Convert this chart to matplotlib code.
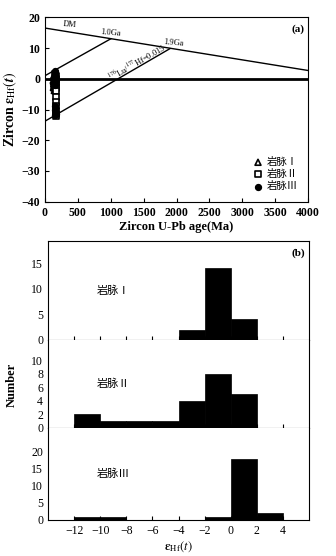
import matplotlib
matplotlib.use("Agg")
import matplotlib.pyplot as plt
import numpy as np

plt.rcParams['font.family'] = ['Liberation Serif', 'Noto Sans CJK SC', 'DejaVu Sans']
plt.rcParams['mathtext.fontset'] = 'stix'

# ---------------- Panel (a) data ----------------
age_I = [120, 125, 130, 132, 135, 138, 140, 142, 145, 148, 128, 136]
ehf_I = [0.5, -0.5, -1.0, -1.5, -2.0, -2.5, -3.0, -3.8, 0.0, -1.2, -2.8, 0.8]
age_II = [158, 160, 162, 165, 168, 160, 163, 166, 164, 161, 167, 162, 165]
ehf_II = [1.5, 0.8, 0.0, -1.0, -2.0, -3.0, -4.0, -6.0, -7.5, -9.0, -10.5, -11.5, -12.0]
age_III = [145, 150, 152, 155, 158, 150, 153, 156, 148, 152, 155, 160, 158]
ehf_III = [2.5, 2.0, 1.5, 1.0, 0.5, 0.0, -0.5, -1.0, -2.0, -9.0, -10.0, -11.5, -11.8]

dm_age = [0, 4000]
dm_ehf = [16.5, 2.7]
crust1_age = [0, 1000]
crust1_ehf = [1.0, 13.0]
crust2_age = [0, 1900]
crust2_ehf = [-13.8, 9.8]

# ---------------- Panel (b) data ----------------
bin_left = [-12, -10, -8, -6, -4, -2, 0, 2]
count_I = [0, 0, 0, 0, 2, 14, 4, 0]
count_II = [2, 1, 1, 1, 4, 8, 5, 0]
count_III = [1, 1, 0, 0, 0, 1, 18, 2]

W, H = 336, 556
fig = plt.figure(figsize=(W / 100, H / 100), dpi=100)

def pos(l, r, t, b):
    return [l / W, 1 - b / H, (r - l) / W, (b - t) / H]

ax = fig.add_axes(pos(45, 308, 17.3, 201.7))
ax.set_xlim(0, 4000)
ax.set_ylim(-40, 20)
ax.plot(dm_age, dm_ehf, color='black', lw=1)
ax.plot(crust1_age, crust1_ehf, color='black', lw=1)
ax.plot(crust2_age, crust2_ehf, color='black', lw=1)
ax.axhline(0, color='black', lw=2)
ax.scatter(age_I, ehf_I, marker='^', s=18, facecolor='none', edgecolor='black', lw=1.2, label='岩脉Ⅰ', zorder=3)
ax.scatter(age_II, ehf_II, marker='s', s=16, facecolor='white', edgecolor='black', lw=1.2, label='岩脉Ⅱ', zorder=3)
ax.scatter(age_III, ehf_III, marker='o', s=18, color='black', label='岩脉Ⅲ', zorder=4)
ax.set_xticks(np.arange(0, 4001, 500))
ax.set_yticks(np.arange(-40, 21, 10))
ax.tick_params(direction='in', length=3, labelsize=8.5)
for lab in ax.get_xticklabels() + ax.get_yticklabels():
    lab.set_fontweight('bold')
ax.set_xlabel('Zircon U-Pb age(Ma)', fontsize=9, fontweight='bold', labelpad=2)
ax.set_ylabel(r'Zircon $\boldsymbol{\varepsilon}_{\rm Hf}(\boldsymbol{t})$', fontsize=10, fontweight='bold', labelpad=2)
ax.text(0.985, 0.96, '(a)', transform=ax.transAxes, ha='right', va='top', fontsize=8, fontweight='bold')
ax.text(380, 16.2, 'DM', fontsize=6, ha='center', va='bottom', rotation=-5)
ax.text(1000, 13.2, '1.0Ga', fontsize=6, ha='center', va='bottom', rotation=-5)
ax.text(1950, 10.0, '1.9Ga', fontsize=6, ha='center', va='bottom', rotation=-5)
ax.text(1390, 5.2, r'$^{176}$Lu/$^{177}$Hf=0.015', fontsize=6, ha='center', va='center', rotation=30)
leg = ax.legend(loc='lower right', frameon=False, fontsize=7.5, handletextpad=0.3,
                labelspacing=0.2, borderaxespad=0.6, handlelength=1.0)

# ---------------- Panel (b) ----------------
sub_bounds = [(241, 340), (340, 427.5), (427.5, 520)]
ylims = [19.3, 13.06, 27.2]
counts = [count_I, count_II, count_III]
yticks = [[0, 5, 10, 15], [0, 2, 4, 6, 8, 10], [0, 5, 10, 15, 20]]
names = ['岩脉Ⅰ', '岩脉Ⅱ', '岩脉Ⅲ']
axes_b = []
for i in range(3):
    t, b = sub_bounds[i]
    a = fig.add_axes(pos(48, 309, t, b))
    a.bar(bin_left, counts[i], width=2, align='edge', color='black', edgecolor='black', lw=0.5)
    a.set_xlim(-14, 6)
    a.set_ylim(0, ylims[i])
    a.set_yticks(yticks[i])
    a.set_xticks(np.arange(-12, 5, 2))
    a.tick_params(direction='in', length=3, labelsize=8.5, width=0.8)
    a.tick_params(axis='y', length=0)
    a.text(-9, ylims[i] * 0.5, names[i], fontsize=8, ha='center', va='center')
    for s in ['top', 'right', 'left', 'bottom']:
        a.spines[s].set_linewidth(0.8)
    if i > 0:
        a.spines['top'].set_visible(False)
    if i < 2:
        a.set_xticklabels([])
    else:
        a.set_xticklabels(['\u221212', '\u221210', '\u22128', '\u22126', '\u22124', '\u22122', '0', '2', '4'])
    axes_b.append(a)

axes_b[0].text(0.985, 0.93, '(b)', transform=axes_b[0].transAxes, ha='right', va='top', fontsize=8, fontweight='bold')
axes_b[2].set_xlabel(r'$\boldsymbol{\varepsilon}_{\rm Hf}(t)$', fontsize=9, labelpad=2)
fig.text(12 / W, 1 - 385 / H, 'Number', rotation=90, fontsize=9, fontweight='bold', ha='center', va='center')

fig.savefig('out.png', dpi=100)
